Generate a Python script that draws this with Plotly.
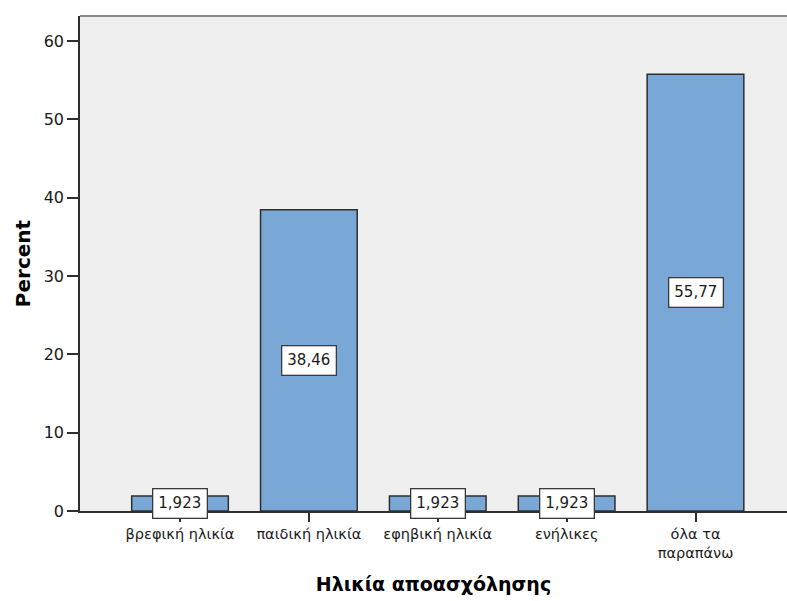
import plotly.graph_objects as go

# Age groups and their share of responses (%)
categories = ["βρεφική ηλικία", "παιδική ηλικία", "εφηβική ηλικία", "ενήλικες", "όλα τα<br>παραπάνω"]
percent = [1.923, 38.46, 1.923, 1.923, 55.77]
y_ticks = [0, 10, 20, 30, 40, 50, 60]

x_pos = list(range(len(categories)))
FONT = "DejaVu Sans"

fig = go.Figure(
    go.Bar(
        x=x_pos,
        y=percent,
        width=0.75,
        marker=dict(color="#79A8D7", line=dict(color="#2E2E2E", width=1.5)),
        hoverinfo="skip",
    )
)

# value boxes centred half-way up each bar
for xi, v in zip(x_pos, percent):
    fig.add_annotation(
        x=xi, y=v / 2, text=f"{v:.4g}".replace(".", ","),
        showarrow=False, font=dict(family=FONT, size=15, color="#1A1A1A"),
        bgcolor="white", bordercolor="#3A3A3A", borderwidth=1.3, borderpad=5,
    )

# thin grey frame line along the top of the plot area
fig.add_shape(type="line", xref="paper", yref="paper", x0=0, x1=1, y0=1, y1=1,
              line=dict(color="#8A8A8A", width=2))

fig.update_layout(
    width=787, height=601,
    margin=dict(l=80, r=0, t=16, b=90),
    paper_bgcolor="white",
    plot_bgcolor="#EFEFEF",
    showlegend=False,
    font=dict(family=FONT, color="#1A1A1A"),
    xaxis=dict(
        range=[-0.776, 4.71],
        tickvals=x_pos, ticktext=categories,
        tickfont=dict(family=FONT, size=14.5, color="#1A1A1A"),
        showgrid=False, zeroline=False,
        showline=True, linecolor="#2E2E2E", linewidth=1.5,
        ticks="outside", ticklen=9, tickwidth=1.5, tickcolor="#2E2E2E",
        title=dict(text="<b>Ηλικία αποασχόλησης</b>", font=dict(family=FONT, size=19, color="#000000"),
                   standoff=18),
    ),
    yaxis=dict(
        range=[0, 63.2],
        tickvals=y_ticks,
        tickfont=dict(family=FONT, size=16, color="#1A1A1A"),
        showgrid=False, zeroline=False,
        showline=True, linecolor="#2E2E2E", linewidth=1.5,
        ticks="outside", ticklen=11, tickwidth=1.5, tickcolor="#2E2E2E",
        title=dict(text="<b>Percent</b>", font=dict(family=FONT, size=20, color="#000000"),
                   standoff=8),
    ),
)

fig.write_html("out.html")
